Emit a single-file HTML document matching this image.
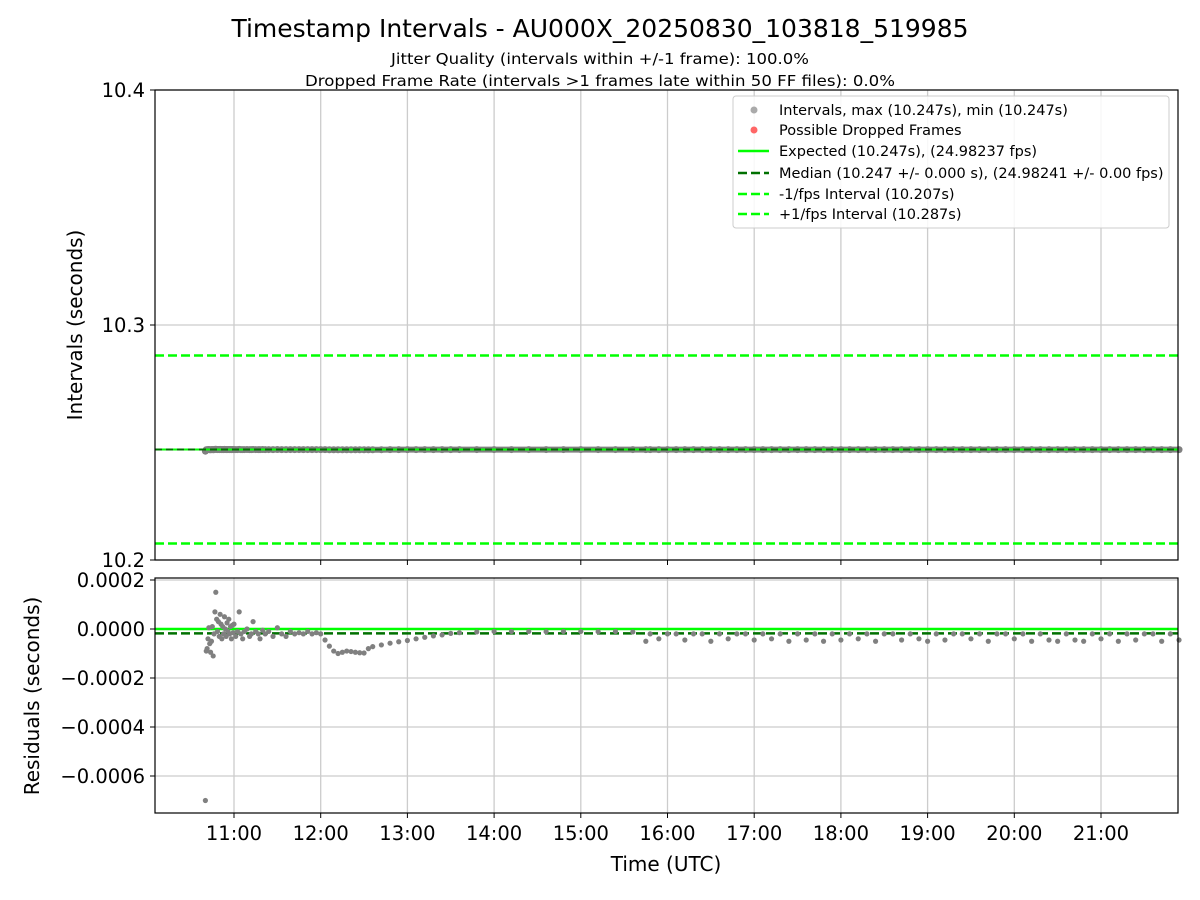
<!DOCTYPE html>
<html><head><meta charset="utf-8"><style>
body{margin:0;background:#fff;}
svg{display:block;font-family:"DejaVu Sans","Liberation Sans",sans-serif;}
</style></head><body>
<svg id="chart" width="1200" height="900">
<text x="600" y="37" text-anchor="middle" font-size="25">Timestamp Intervals - AU000X_20250830_103818_519985</text>
<text x="600" y="64" text-anchor="middle" font-size="15" textLength="418" lengthAdjust="spacingAndGlyphs">Jitter Quality (intervals within +/-1 frame): 100.0%</text>
<text x="600" y="86" text-anchor="middle" font-size="15" textLength="590" lengthAdjust="spacingAndGlyphs">Dropped Frame Rate (intervals &gt;1 frames late within 50 FF files): 0.0%</text>
<g id="gtop"></g>
<g id="gbot"></g>
<g id="xax"></g>
<text x="666" y="871" text-anchor="middle" font-size="20">Time (UTC)</text>
<text transform="translate(82,325) rotate(-90)" text-anchor="middle" font-size="20">Intervals (seconds)</text>
<text transform="translate(39,696) rotate(-90)" text-anchor="middle" font-size="20">Residuals (seconds)</text>
<g id="legend"></g>
</svg>
<script>
const times=[10.67,10.68,10.69,10.70,10.71,10.72,10.73,10.74,10.75,10.76,10.77,10.78,10.79,10.80,10.81,10.82,10.83,10.84,10.85,10.86,10.87,10.88,10.89,10.90,10.91,10.92,10.93,10.94,10.95,10.96,10.97,10.98,10.99,11.0,11.02,11.04,11.06,11.08,11.10,11.12,11.15,11.18,11.2,11.22,11.25,11.28,11.3,11.33,11.36,11.4,11.45,11.5,11.55,11.6,11.65,11.7,11.75,11.8,11.85,11.9,11.95,12.0,12.05,12.1,12.15,12.2,12.25,12.3,12.35,12.4,12.45,12.5,12.55,12.6,12.7,12.8,12.9,13.0,13.1,13.2,13.3,13.4,13.5,13.6,13.8,14.0,14.2,14.4,14.6,14.8,15.0,15.2,15.4,15.6,15.75,15.8,15.9,16.0,16.1,16.2,16.3,16.4,16.5,16.6,16.7,16.8,16.9,17.0,17.1,17.2,17.3,17.4,17.5,17.6,17.7,17.8,17.9,18.0,18.1,18.2,18.3,18.4,18.5,18.6,18.7,18.8,18.9,19.0,19.1,19.2,19.3,19.4,19.5,19.6,19.7,19.8,19.9,20.0,20.1,20.2,20.3,20.4,20.5,20.6,20.7,20.8,20.9,21.0,21.1,21.2,21.3,21.4,21.5,21.6,21.7,21.8,21.9];
const residualsUs=[-700,-90,-80,-40,5,-60,-95,-50,10,-110,-20,70,150,40,-10,30,-30,60,20,-40,10,-20,50,0,-30,25,-10,40,-20,10,-40,15,-15,20,-30,-10,70,-20,-40,-10,0,-30,-20,30,-10,-20,-40,-5,-20,-10,-30,5,-20,-30,-10,-20,-15,-20,-10,-20,-15,-20,-45,-70,-90,-100,-95,-90,-92,-95,-97,-98,-80,-72,-65,-58,-52,-47,-40,-34,-28,-24,-18,-15,-12,-10,-10,-10,-11,-10,-10,-11,-10,-12,-50,-20,-40,-20,-20,-45,-20,-20,-50,-20,-40,-20,-20,-45,-20,-40,-20,-50,-20,-45,-20,-50,-20,-45,-20,-40,-20,-50,-20,-20,-45,-20,-40,-50,-20,-45,-20,-20,-40,-20,-50,-20,-20,-40,-20,-50,-20,-45,-50,-20,-45,-50,-20,-40,-20,-50,-20,-45,-20,-20,-50,-20,-45];
const expectedInterval=10.247, medianInterval=10.247, minusFps=10.207, plusFps=10.287, medianResidual=-0.000018;
const topTicks=[10.2,10.3,10.4];
const botTicks=[0.0002,0,-0.0002,-0.0004,-0.0006];
const botTickLabels=["0.0002","0.0000","\u22120.0002","\u22120.0004","\u22120.0006"];
const hourTicks=[11,12,13,14,15,16,17,18,19,20,21];

const NS="http://www.w3.org/2000/svg";
const L=155,R=1178,T1=90,B1=560,T2=578,B2=813;
const X=h=>234+(h-11)*86.7;
const Y1=v=>560-(v-10.2)*2350;
const Y2=v=>629-v*245000;
function mk(p,tag,a){const e=document.createElementNS(NS,tag);for(const k in a)e.setAttribute(k,a[k]);p.appendChild(e);return e;}
const gTop=document.getElementById('gtop'),gBot=document.getElementById('gbot'),xax=document.getElementById('xax'),leg=document.getElementById('legend');
hourTicks.forEach(h=>{
 mk(gTop,'line',{x1:X(h),x2:X(h),y1:T1,y2:B1,stroke:'#ccc','stroke-width':1.3});
 mk(gBot,'line',{x1:X(h),x2:X(h),y1:T2,y2:B2,stroke:'#ccc','stroke-width':1.3});
 mk(xax,'line',{x1:X(h),x2:X(h),y1:B2,y2:B2+5,stroke:'#000'});
 mk(xax,'line',{x1:X(h),x2:X(h),y1:B1,y2:B1+5,stroke:'#000'});
 const t=mk(xax,'text',{x:X(h),y:B2+27,'text-anchor':'middle','font-size':19.5});
 t.textContent=h+':00';
 
 
});
topTicks.forEach(v=>{
 mk(gTop,'line',{x1:L,x2:R,y1:Y1(v),y2:Y1(v),stroke:'#ccc','stroke-width':1.3});
 mk(gTop,'line',{x1:L-5,x2:L,y1:Y1(v),y2:Y1(v),stroke:'#000'});
 const t=mk(gTop,'text',{x:L-10,y:Y1(v)+7,'text-anchor':'end','font-size':19.5});
 t.textContent=v.toFixed(1);
 
 
});
botTicks.forEach((v,i)=>{
 mk(gBot,'line',{x1:L,x2:R,y1:Y2(v),y2:Y2(v),stroke:'#ccc','stroke-width':1.3});
 mk(gBot,'line',{x1:L-5,x2:L,y1:Y2(v),y2:Y2(v),stroke:'#000'});
 const t=mk(gBot,'text',{x:L-10,y:Y2(v)+7,'text-anchor':'end','font-size':19.5});
 t.textContent=botTickLabels[i];
 
 
});
let pts=times.map((t,i)=>X(t)+','+Y1(expectedInterval+residualsUs[i]*1e-6)).join(' ');
mk(gTop,'polyline',{points:pts,fill:'none',stroke:'#808080','stroke-width':6,'stroke-linecap':'round'});
times.forEach((t,i)=>{const c=mk(gTop,'circle',{cx:X(t),cy:Y1(expectedInterval+residualsUs[i]*1e-6),r:3.5,fill:'#808080'});
 
 });
mk(gTop,'line',{x1:L,x2:R,y1:Y1(expectedInterval),y2:Y1(expectedInterval),stroke:'#00ff00','stroke-width':2});
mk(gTop,'line',{x1:L,x2:R,y1:Y1(medianInterval),y2:Y1(medianInterval),stroke:'#007000','stroke-width':2,'stroke-dasharray':'7,4'});
mk(gTop,'line',{x1:L,x2:R,y1:Y1(minusFps),y2:Y1(minusFps),stroke:'#00ff00','stroke-width':2.5,'stroke-dasharray':'9,4'});
mk(gTop,'line',{x1:L,x2:R,y1:Y1(plusFps),y2:Y1(plusFps),stroke:'#00ff00','stroke-width':2.5,'stroke-dasharray':'9,4'});
mk(gTop,'rect',{x:L,y:T1,width:R-L,height:B1-T1,fill:'none',stroke:'#000','stroke-width':1.2});
mk(gBot,'line',{x1:L,x2:R,y1:Y2(0),y2:Y2(0),stroke:'#00ff00','stroke-width':2.5});
mk(gBot,'line',{x1:L,x2:R,y1:Y2(medianResidual),y2:Y2(medianResidual),stroke:'#007000','stroke-width':2.5,'stroke-dasharray':'9,4'});
times.forEach((t,i)=>{const c=mk(gBot,'circle',{cx:X(t),cy:Y2(residualsUs[i]*1e-6),r:2.6,fill:'#808080'});
 
 });
mk(gBot,'rect',{x:L,y:T2,width:R-L,height:B2-T2,fill:'none',stroke:'#000','stroke-width':1.2});
mk(leg,'rect',{x:733,y:96,width:436,height:132,rx:3,fill:'#fff','fill-opacity':0.85,stroke:'#ccc'});
const legLabels=["Intervals, max (10.247s), min (10.247s)","Possible Dropped Frames","Expected (10.247s), (24.98237 fps)","Median (10.247 +/- 0.000 s), (24.98241 +/- 0.00 fps)","-1/fps Interval (10.207s)","+1/fps Interval (10.287s)"];
const legY=[110,130,151,173,194,214];
mk(leg,'circle',{cx:754,cy:legY[0],r:3.5,fill:'#aaa'});
mk(leg,'circle',{cx:754,cy:legY[1],r:3.5,fill:'#f66'});
mk(leg,'line',{x1:738,x2:769,y1:legY[2],y2:legY[2],stroke:'#00ff00','stroke-width':2.5});
mk(leg,'line',{x1:738,x2:769,y1:legY[3],y2:legY[3],stroke:'#007000','stroke-width':2.5,'stroke-dasharray':'9,4'});
mk(leg,'line',{x1:738,x2:769,y1:legY[4],y2:legY[4],stroke:'#00ff00','stroke-width':2.5,'stroke-dasharray':'9,4'});
mk(leg,'line',{x1:738,x2:769,y1:legY[5],y2:legY[5],stroke:'#00ff00','stroke-width':2.5,'stroke-dasharray':'9,4'});
legLabels.forEach((s,i)=>{const t=mk(leg,'text',{x:779,y:legY[i]+5,'font-size':14.5});
 t.textContent=s;
 
 });
</script>
</body></html>
